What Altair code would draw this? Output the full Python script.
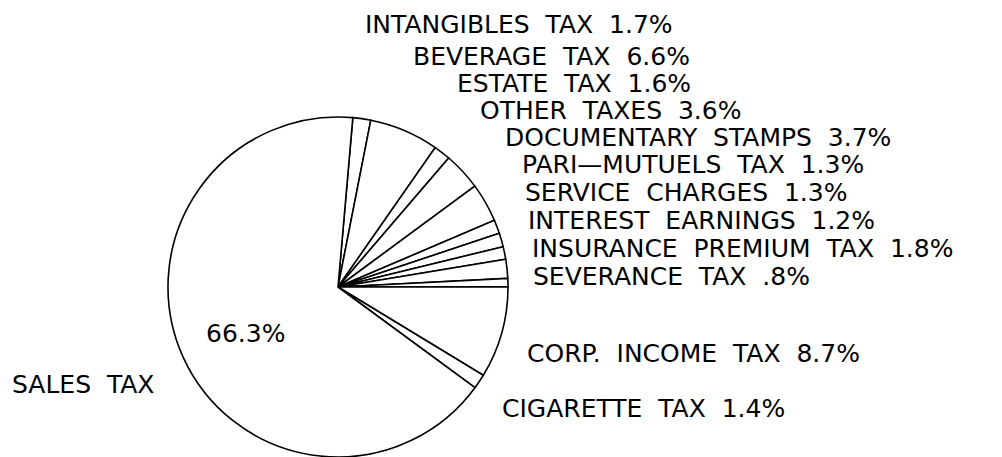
import math
import altair as alt
import pandas as pd

# ---- data ----
categories = [
    "INTANGIBLES TAX", "BEVERAGE TAX", "ESTATE TAX", "OTHER TAXES",
    "DOCUMENTARY STAMPS", "PARI—MUTUELS TAX", "SERVICE CHARGES",
    "INTEREST EARNINGS", "INSURANCE PREMIUM TAX", "SEVERANCE TAX",
    "CORP. INCOME TAX", "CIGARETTE TAX", "SALES TAX",
]
shares = [1.7, 6.6, 1.6, 3.6, 3.7, 1.3, 1.3, 1.2, 1.8, 0.8, 8.7, 1.4, 66.3]

df = pd.DataFrame({"category": categories, "share": shares,
                   "order": list(range(len(categories)))})

GAP = "\u00a0\u00a0"  # wide word gap like the plotter lettering


def fmt(v):
    s = f"{v:.1f}%"
    return s[1:] if s.startswith("0") else s


def wide(s):
    return s.replace(" ", GAP)


# ---- layout (not data) ----
CX, CY, R = 338, 287, 170
START = math.radians(5)
FONT = "DejaVu Sans"
FS = 25

# label anchor positions: left x, baseline y
label_pos = {
    "INTANGIBLES TAX": (365, 33),
    "BEVERAGE TAX": (413, 65),
    "ESTATE TAX": (457, 92),
    "OTHER TAXES": (480, 119),
    "DOCUMENTARY STAMPS": (505, 146),
    "PARI—MUTUELS TAX": (522, 173),
    "SERVICE CHARGES": (525, 201),
    "INTEREST EARNINGS": (528, 229),
    "INSURANCE PREMIUM TAX": (532, 257),
    "SEVERANCE TAX": (533, 285),
    "CORP. INCOME TAX": (527, 362),
    "CIGARETTE TAX": (502, 417),
}

pie = alt.Chart(df).mark_arc(
    radius=R, fill="white", stroke="black", strokeWidth=1.6
).encode(
    theta=alt.Theta("share:Q", stack=True,
                    scale=alt.Scale(range=[START, START + 2 * math.pi])),
    order=alt.Order("order:Q"),
    x=alt.value(CX),
    y=alt.value(CY),
)


def text_layer(txt, x, y):
    return alt.Chart(pd.DataFrame({"t": [txt]})).mark_text(
        align="left", baseline="alphabetic", font=FONT, fontSize=FS,
        color="black"
    ).encode(text="t:N", x=alt.value(x), y=alt.value(y))


layers = [pie]
for cat, val in zip(categories, shares):
    if cat in label_pos:
        x, y = label_pos[cat]
        layers.append(text_layer(wide(f"{cat} {fmt(val)}"), x, y))

sales_val = shares[categories.index("SALES TAX")]
layers.append(text_layer(fmt(sales_val), 206, 342))
layers.append(text_layer(wide("SALES TAX"), 12, 393))

chart = alt.layer(*layers).properties(
    width=1002, height=457, padding=0, autosize=alt.AutoSizeParams(type="none"),
    background="white",
).configure_view(stroke=None)

chart.save("out.html", embed_options={"renderer": "svg", "actions": False})
